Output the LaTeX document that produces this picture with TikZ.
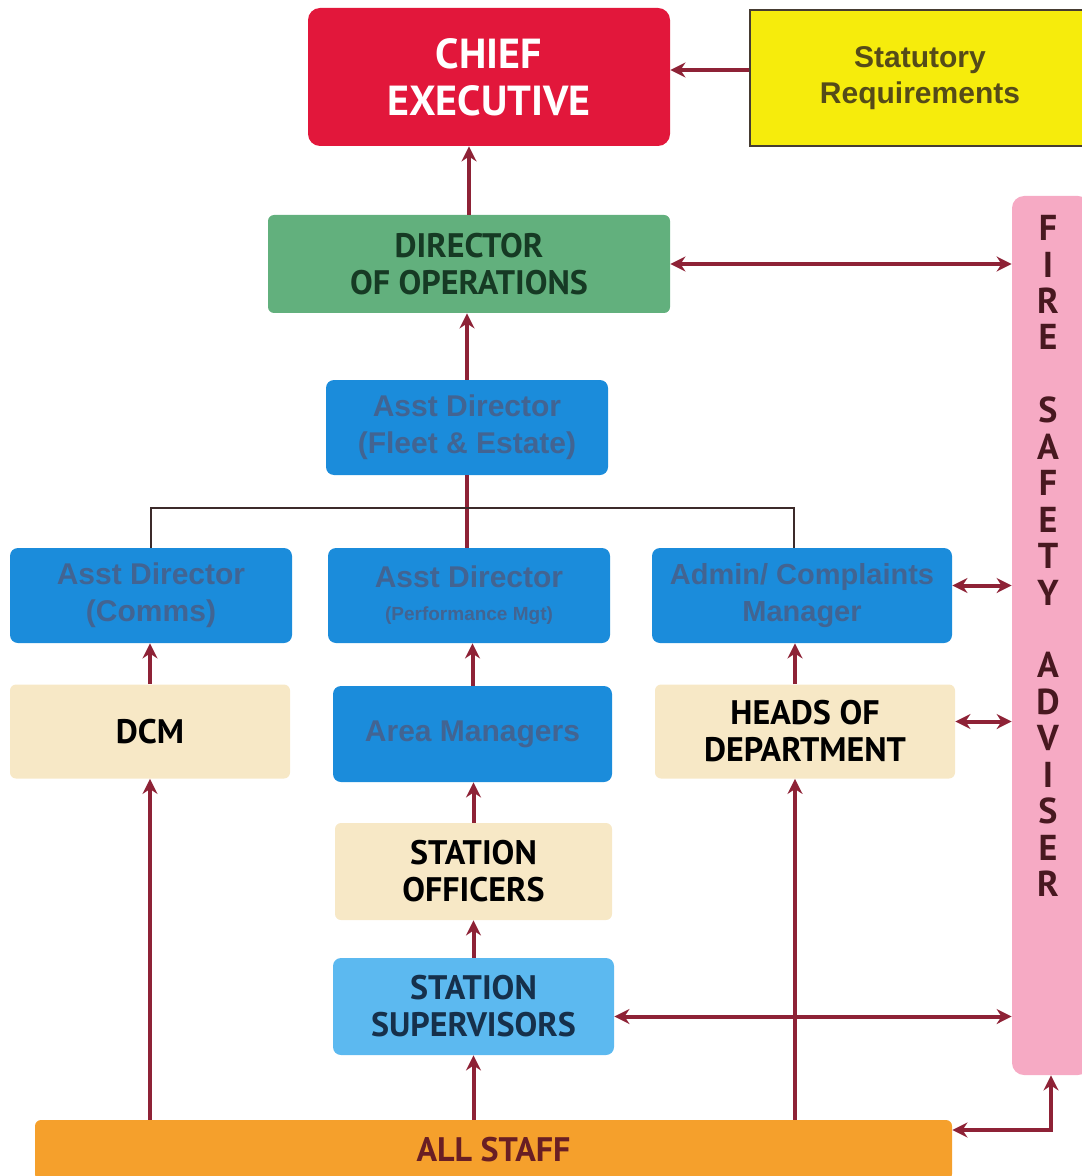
\documentclass[tikz,border=0pt]{standalone}
\usepackage{fontspec}
\setmainfont{Liberation Sans}
\newfontfamily\headfont{PT Sans}
\usetikzlibrary{arrows.meta}

\definecolor{chiefRed}{RGB}{226,23,59}
\definecolor{statYellow}{RGB}{246,236,12}
\definecolor{statBorder}{RGB}{70,60,50}
\definecolor{statText}{RGB}{85,75,25}
\definecolor{dirGreen}{RGB}{98,176,125}
\definecolor{dirText}{RGB}{22,58,36}
\definecolor{asstBlue}{RGB}{27,140,219}
\definecolor{asstText}{RGB}{66,100,146}
\definecolor{paleBeige}{RGB}{247,232,198}
\definecolor{supBlue}{RGB}{92,185,240}
\definecolor{supText}{RGB}{22,48,75}
\definecolor{staffOrange}{RGB}{245,160,44}
\definecolor{staffText}{RGB}{105,30,36}
\definecolor{firePink}{RGB}{246,170,196}
\definecolor{fireText}{RGB}{72,24,32}
\definecolor{linkRed}{RGB}{142,34,54}
\definecolor{branchGrey}{RGB}{60,42,42}

\begin{document}
\begin{tikzpicture}[x=0.5pt,y=-0.5pt,
    box/.style={rectangle, rounded corners=4pt, inner sep=2pt, align=center},
    bluebox/.style={box, fill=asstBlue, text=asstText, minimum width=141pt, minimum height=47.5pt, font=\bfseries\fontsize{15}{18.5}\selectfont},
    palebox/.style={box, rounded corners=3pt, fill=paleBeige, text=black, minimum height=47pt, font=\headfont\bfseries\fontsize{17}{18.5}\selectfont},
    fireletter/.style={text=fireText, inner sep=0pt, font=\headfont\bfseries\fontsize{18}{18}\selectfont},
    link/.style={draw=linkRed, line width=2pt, -{Stealth[length=7.5pt,width=7.5pt]}},
    twoway/.style={link, {Stealth[length=7.5pt,width=7.5pt]}-{Stealth[length=7.5pt,width=7.5pt]}},
    stem/.style={draw=linkRed, line width=2pt},
    branch/.style={draw=branchGrey, line width=1pt}]
  \useasboundingbox (0,0) rectangle (1081,1176);

  % top row
  \node[box, rounded corners=6pt, fill=chiefRed, text=white, minimum width=181pt, minimum height=69pt,
        font=\headfont\bfseries\fontsize{21}{23.5}\selectfont] (chief) at (489,77) {CHIEF\\EXECUTIVE};
  \node[rectangle, draw=statBorder, line width=0.8pt, fill=statYellow, text=statText, align=center,
        minimum width=170pt, minimum height=68pt, font=\bfseries\fontsize{15}{18}\selectfont] (statutory) at (920,78) {Statutory\\Requirements};

  % fire safety adviser column
  \node[rectangle, rounded corners=6pt, fill=firePink, minimum width=39pt, minimum height=439.5pt] (fire) at (1051,635.5) {};
  \foreach \ch [count=\i from 0] in {F,I,R,E,{},S,A,F,E,T,Y,{},A,D,V,I,S,E,R}
    \node[fireletter] (fire-\i) at (1048,{228+36.44*\i}) {\ch};

  % management boxes
  \node[box, rounded corners=3pt, fill=dirGreen, text=dirText, minimum width=201pt, minimum height=49pt,
        font=\headfont\bfseries\fontsize{17}{18.5}\selectfont] (director) at (469,264) {DIRECTOR\\OF OPERATIONS};
  \node[bluebox] (fleet) at (467,427.5) {Asst Director\\(Fleet \& Estate)};
  \node[bluebox] (comms) at (151,595.5) {Asst Director\\(Comms)};
  \node[bluebox] (perf) at (469,595.5) {Asst Director\\[-2pt]{\fontsize{9.5}{12}\selectfont(Performance Mgt)}};
  \node[bluebox, minimum width=150pt, font=\bfseries\fontsize{14.5}{18.5}\selectfont] (admin) at (802,595.5) {Admin/ Complaints\\Manager};

  % lower boxes
  \node[palebox, minimum width=140pt] (dcm) at (150,731.5) {DCM};
  \node[bluebox, minimum width=139.5pt, minimum height=48pt] (area) at (472.5,734) {Area Managers};
  \node[palebox, minimum width=150pt] (heads) at (805,731.5) {HEADS OF\\DEPARTMENT};
  \node[palebox, minimum width=138.5pt, minimum height=48.5pt] (officers) at (473.5,871.5) {STATION\\OFFICERS};
  \node[box, fill=supBlue, text=supText, minimum width=140.5pt, minimum height=48.5pt,
        font=\headfont\bfseries\fontsize{17}{18.5}\selectfont] (supervisors) at (473.5,1006.5) {STATION\\SUPERVISORS};
  \node[box, rounded corners=3pt, fill=staffOrange, text=staffText, minimum width=458.5pt, minimum height=30pt,
        font=\headfont\bfseries\fontsize{17}{18}\selectfont] (staff) at (493.5,1150) {ALL STAFF};

  % upward reporting lines
  \draw[link] ([yshift=4pt]statutory.west) -- ([yshift=4pt]statutory.west -| chief.east);
  \draw[link] (director.north) -- (director.north |- chief.south);
  \draw[link] (fleet.north) -- (fleet.north |- director.south);
  \draw[stem] (fleet.south) -- (fleet.south |- perf.north);
  \coordinate (split) at (470,508);
  \draw[branch] (comms.north) |- (split) -| ([xshift=-4pt]admin.north);
  \draw[link] (dcm.north) -- (dcm.north |- comms.south);
  \draw[link] (area.north) -- (area.north |- perf.south);
  \draw[link] ([xshift=-5pt]heads.north) -- ([xshift=-5pt]heads.north |- admin.south);
  \draw[link] (officers.north) -- (officers.north |- area.south);
  \draw[link] (supervisors.north) -- (supervisors.north |- officers.south);

  % from all staff
  \draw[link] (dcm.south |- staff.north) -- (dcm.south);
  \draw[link] (supervisors.south |- staff.north) -- (supervisors.south);
  \draw[link] ([xshift=-5pt]heads.south |- staff.north) -- ([xshift=-5pt]heads.south);

  % links to the fire safety adviser
  \draw[twoway] (director.east) -- (director.east -| fire.west);
  \draw[twoway] ([yshift=5pt]admin.east) -- ([yshift=5pt]admin.east -| fire.west);
  \draw[twoway] ([yshift=5pt]heads.east) -- ([yshift=5pt]heads.east -| fire.west);
  \draw[twoway] ([yshift=-5pt]supervisors.east) -- ([yshift=-5pt]supervisors.east -| fire.west);
  \draw[twoway] ([yshift=10pt]staff.east) -| (fire.south);
\end{tikzpicture}
\end{document}
